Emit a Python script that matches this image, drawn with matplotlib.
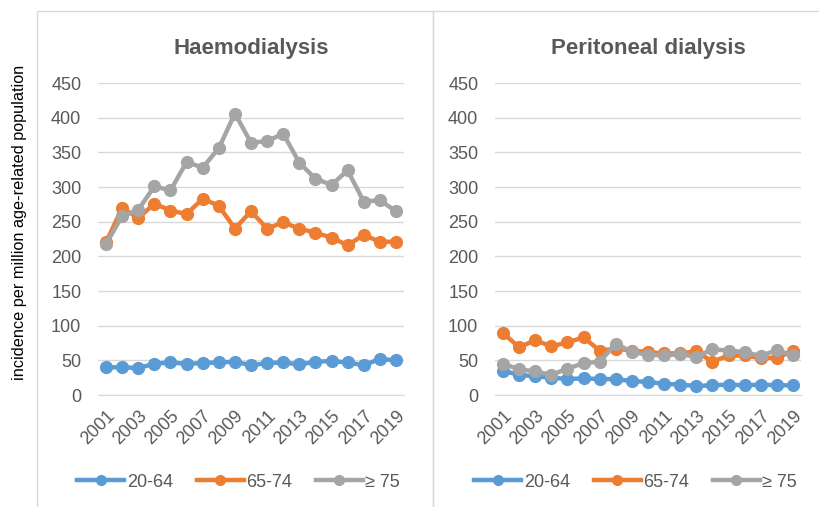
import matplotlib
matplotlib.use("Agg")
import matplotlib.pyplot as plt
from matplotlib.patches import Rectangle
from matplotlib.lines import Line2D

plt.rcParams['font.family'] = ['Liberation Sans', 'DejaVu Sans']

years = list(range(2001, 2020))
groups = ["20-64", "65-74", "\u2265 75"]
colors = ["#5B9BD5", "#ED7D31", "#A5A5A5"]

hd_20_64 = [40, 40, 39, 45, 47, 45, 46, 47, 48, 43, 46, 47, 44, 48, 49, 47, 43, 52, 50]
hd_65_74 = [220, 270, 255, 276, 266, 261, 283, 273, 240, 265, 240, 249, 240, 234, 227, 216, 231, 221, 221]
hd_75 = [218, 258, 267, 301, 295, 336, 328, 356, 406, 364, 366, 377, 335, 312, 303, 324, 279, 281, 265]

pd_20_64 = [35, 29, 27, 25, 23, 24, 23, 23, 20, 19, 16, 15, 13, 14, 15, 14, 15, 14, 14]
pd_65_74 = [89, 69, 79, 70, 76, 83, 64, 67, 64, 62, 60, 60, 63, 48, 57, 57, 53, 54, 63]
pd_75 = [45, 37, 34, 29, 38, 46, 48, 74, 62, 58, 57, 59, 55, 66, 64, 62, 56, 65, 57]

panels = [
    ("Haemodialysis", [hd_20_64, hd_65_74, hd_75]),
    ("Peritoneal dialysis", [pd_20_64, pd_65_74, pd_75]),
]

W, H = 819, 507
fig = plt.figure(figsize=(W / 100, H / 100), dpi=100)

grid_c = "#D9D9D9"
text_c = "#595959"

# panel boxes
for x0, x1 in [(37, 433), (433, 830)]:
    fig.add_artist(Rectangle((x0 / W, -0.05), (x1 - x0) / W, 1.05 - 11 / H,
                             transform=fig.transFigure, fill=False,
                             edgecolor=grid_c, linewidth=1.0))

ax_lefts = [98, 495]
for (title, series), axl in zip(panels, ax_lefts):
    ax = fig.add_axes([axl / W, (H - 395) / H, 306 / W, 312 / H])
    for vals, col, lab in zip(series, colors, groups):
        ax.plot(years, vals, color=col, lw=3.2, marker='o', ms=8.5,
                label=lab, solid_capstyle='round', zorder=3)
    ax.set_xlim(2000.5, 2019.5)
    ax.set_ylim(0, 450)
    ax.set_yticks(range(0, 451, 50))
    ax.set_xticks(years[::2])
    ax.set_xticklabels([str(y) for y in years[::2]], rotation=45, ha='right',
                       va='top', rotation_mode='anchor')
    ax.grid(axis='y', color=grid_c, lw=1.0)
    ax.set_axisbelow(True)
    for s in ['top', 'right', 'left']:
        ax.spines[s].set_visible(False)
    ax.spines['bottom'].set_color(grid_c)
    ax.tick_params(axis='both', length=0, labelsize=13, colors=text_c)
    ax.tick_params(axis='y', pad=12)
    ax.tick_params(axis='x', pad=9)
    ax.set_title(title, fontsize=16, fontweight='bold', color=text_c, pad=21)
    handles = [Line2D([], [], color=c, lw=3.2, marker='o', ms=7) for c in colors]
    ax.legend(handles, groups, loc='upper center', bbox_to_anchor=(0.46, -0.2),
              ncol=3, frameon=False, fontsize=13, handlelength=2.6,
              handletextpad=0.15, columnspacing=1.3, labelcolor=text_c)

fig.text(20 / W, (H - 222) / H, "incidence per million age-related population",
         rotation=90, ha='center', va='center', fontsize=11.7, color='black')

fig.savefig("out.png", dpi=100)
